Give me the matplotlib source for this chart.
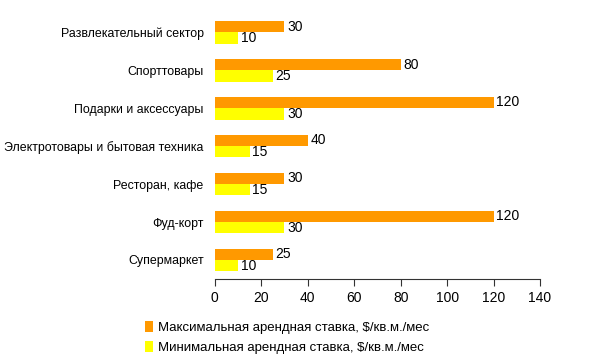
import matplotlib.pyplot as plt
import numpy as np

plt.rcParams['font.family'] = ['Liberation Sans', 'DejaVu Sans']

categories = ["Развлекательный сектор", "Спорттовары", "Подарки и аксессуары",
              "Электротовары и бытовая техника", "Ресторан, кафе", "Фуд-корт",
              "Супермаркет"]
max_rate = [30, 80, 120, 40, 30, 120, 25]
min_rate = [10, 25, 30, 15, 15, 30, 10]
xticks = [0, 20, 40, 60, 80, 100, 120, 140]

fig = plt.figure(figsize=(6, 3.59), dpi=100)
ax = fig.add_axes([0.358, 0.223, 0.542, 0.74])

y = np.arange(len(categories))
h = 0.3
b1 = ax.barh(y - h / 2, max_rate, height=h, color='#FF9900',
             label='Максимальная арендная ставка, $/кв.м./мес')
b2 = ax.barh(y + h / 2, min_rate, height=h, color='#FFFF00',
             label='Минимальная арендная ставка, $/кв.м./мес')

for bars, vals in ((b1, max_rate), (b2, min_rate)):
    for bar, v in zip(bars, vals):
        ax.text(v + 1.2, bar.get_y() + bar.get_height() / 2, str(v),
                va='center', ha='left', fontsize=10)

ax.set_ylim(len(categories) - 0.5, -0.5)
ax.set_xlim(0, 140)
ax.set_xticks(xticks)
ax.set_yticks(y)
ax.set_yticklabels(categories, fontsize=8.9)
ax.tick_params(axis='x', labelsize=10, direction='out', length=5, color='#333333')
ax.tick_params(axis='y', length=0, pad=8)
for s in ('top', 'right', 'left'):
    ax.spines[s].set_visible(False)
ax.spines['bottom'].set_color('#333333')

fig.legend(handles=[b1, b2], loc='upper left', bbox_to_anchor=(0.233, 0.12),
           frameon=False, fontsize=9.5, handlelength=0.6, handleheight=0.9,
           handletextpad=0.4, labelspacing=0.5, borderaxespad=0)

plt.savefig('out.png', dpi=100)
plt.close()
